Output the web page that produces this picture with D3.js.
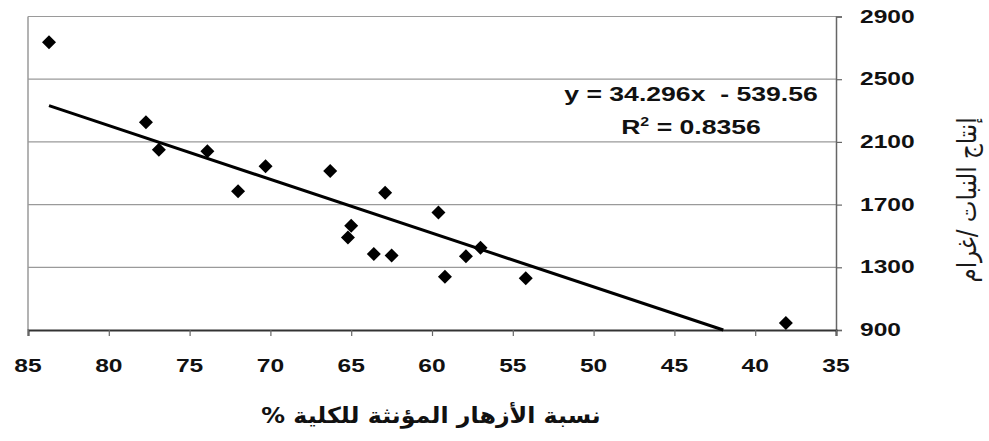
<!DOCTYPE html>
<html><head><meta charset="utf-8">
<script src="https://cdn.jsdelivr.net/npm/d3@7"></script>
<style>body{margin:0;background:#fff}svg{display:block}</style>
</head><body>
<svg id="c" width="989" height="441"></svg>
<script>
const xValues = [83.7, 77.7, 76.9, 73.9, 72.0, 70.3, 66.3, 65.0, 65.2, 63.6, 62.9, 62.5, 59.6, 59.2, 57.9, 57.0, 54.2, 38.1];
const yValues = [2735, 2225, 2050, 2040, 1785, 1945, 1915, 1565, 1490, 1385, 1775, 1375, 1650, 1240, 1370, 1425, 1230, 945];
const xTicks = [85, 80, 75, 70, 65, 60, 55, 50, 45, 40, 35];
const yTicks = [900, 1300, 1700, 2100, 2500, 2900];
const slope = 34.296, intercept = -539.56;
const eqLabel = "y = 34.296x  - 539.56";
const r2Label = "0.8356";
const xTitle = "نسبة الأزهار المؤنثة للكلية %";
const yTitle = "إنتاج النبات /غرام";

const svg = d3.select("#c");
const L = 28, R = 836, T = 16.5, B = 330;
const x = d3.scaleLinear().domain([85, 35]).range([L, R]);
const y = d3.scaleLinear().domain([900, 2900]).range([B, T]);
const SX = 1.33;

// gridlines
svg.append("g").selectAll("line").data(yTicks.filter(d => d > 900)).join("line")
  .attr("x1", L).attr("x2", R).attr("y1", d => y(d)).attr("y2", d => y(d))
  .attr("stroke", "#9a9a9a").attr("stroke-width", 1.2);
// frame
svg.append("line").attr("x1", L).attr("x2", L).attr("y1", T).attr("y2", B).attr("stroke", "#9a9a9a").attr("stroke-width", 1.5);
// right axis
const yAxis = d3.axisRight(y).tickValues(yTicks).tickSize(6).tickFormat("");
svg.append("g").attr("transform", `translate(${R},0)`).call(yAxis)
  .call(g => g.select(".domain").attr("stroke", "#666").attr("stroke-width", 1.5))
  .call(g => g.selectAll(".tick line").attr("stroke", "#666").attr("stroke-width", 1.2));
// bottom axis
const xAxis = d3.axisBottom(x).tickValues(xTicks).tickSize(6).tickFormat("");
svg.append("g").attr("transform", `translate(0,${B})`).call(xAxis)
  .call(g => g.select(".domain").attr("stroke", "#333").attr("stroke-width", 2))
  .call(g => g.selectAll(".tick line").attr("stroke", "#666").attr("stroke-width", 1.2));

function stext(px, py, str, size, anchor, fam, sx) {
  const g = svg.append("g").attr("transform", `translate(${px},${py})`);
  return g.append("text").attr("transform", `scale(${sx || SX},1)`)
    .attr("text-anchor", anchor || "middle")
    .attr("font-family", fam || "Liberation Sans, Arial, sans-serif")
    .attr("font-weight", "bold").attr("font-size", size).attr("fill", "#111")
    .text(str);
}
xTicks.forEach(t => stext(x(t), 372, t, 18.5, "middle"));
yTicks.forEach(t => stext(R + 24, y(t) + 6, t, 18.5, "start"));

// trend line
const xEnd = (900 - intercept) / slope;
const xStart = d3.max(xValues);
const lineGen = d3.line().x(d => x(d)).y(d => y(slope * d + intercept));
svg.append("path").datum([xStart, xEnd]).attr("d", lineGen)
  .attr("stroke", "#000").attr("stroke-width", 3).attr("fill", "none");

// points
const pts = xValues.map((v, i) => [v, yValues[i]]);
svg.append("g").selectAll("path").data(pts).join("path")
  .attr("transform", d => `translate(${x(d[0])},${y(d[1])})`)
  .attr("d", "M0,-7L7,0L0,7L-7,0Z").attr("fill", "#000");

// equation
stext(691, 101, eqLabel, 20, "middle").style("white-space", "pre");
const r2 = stext(691, 134, "", 20, "middle");
r2.append("tspan").text("R");
r2.append("tspan").attr("dy", -8).attr("font-size", 12).text("2");
r2.append("tspan").attr("dy", 8).text(" = " + r2Label);

// axis titles
stext(431, 423, xTitle, 22, "middle", "DejaVu Sans", 1.08).attr("direction", "rtl");
const yt = svg.append("g").attr("transform", "translate(976,200) rotate(-90)");
yt.append("text").attr("transform", "scale(1.15,1.3)").attr("text-anchor", "middle")
  .attr("font-family", "DejaVu Sans").attr("font-size", 20).attr("fill", "#1a1a1a")
  .attr("direction", "rtl").text(yTitle);
</script>
</body></html>
